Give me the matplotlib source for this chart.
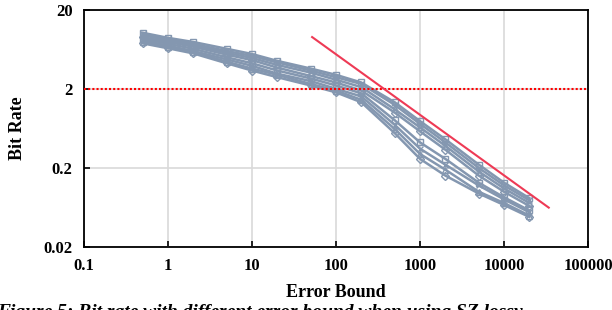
import numpy as np
import matplotlib.pyplot as plt

# Error bounds used for every series
bounds = [0.5, 1, 2, 5, 10, 20, 50, 100, 200, 500, 1000, 2000, 5000, 10000, 20000]

# Bit rate per field
s1 = [10.2, 8.8, 7.8, 6.4, 5.5, 4.5, 3.6, 3.0, 2.4, 1.35, 0.78, 0.46, 0.22, 0.13, 0.083]
s2 = [9.8, 8.5, 7.4, 6.0, 5.2, 4.3, 3.4, 2.8, 2.3, 1.25, 0.72, 0.42, 0.20, 0.12, 0.078]
s3 = [9.5, 8.2, 7.1, 5.7, 4.9, 4.0, 3.2, 2.6, 2.1, 1.10, 0.65, 0.38, 0.18, 0.11, 0.072]
s4 = [9.0, 7.8, 6.8, 5.4, 4.6, 3.7, 2.9, 2.4, 1.9, 1.00, 0.58, 0.34, 0.16, 0.10, 0.066]
s5 = [8.6, 7.4, 6.4, 5.0, 4.2, 3.4, 2.7, 2.2, 1.75, 0.80, 0.42, 0.26, 0.13, 0.085, 0.058]
s6 = [8.2, 7.0, 6.0, 4.7, 3.9, 3.1, 2.5, 2.0, 1.6, 0.70, 0.35, 0.22, 0.12, 0.080, 0.055]
s7 = [7.8, 6.7, 5.8, 4.4, 3.6, 3.0, 2.3, 1.9, 1.45, 0.62, 0.30, 0.19, 0.10, 0.072, 0.050]
s8 = [7.5, 6.5, 5.6, 4.2, 3.4, 2.8, 2.2, 1.8, 1.35, 0.55, 0.26, 0.16, 0.095, 0.068, 0.048]
series = [s1, s2, s3, s4, s5, s6, s7, s8]
markers = ["s", "x", "^", "D", "s", "x", "^", "D"]

# reference lines
ref_level = 2
trend_x = [52, 34000]
trend_y = [9.0, 0.063]

xticks = [0.1, 1, 10, 100, 1000, 10000, 100000]
xlabels = ["0.1", "1", "10", "100", "1000", "10000", "100000"]
yticks = [0.02, 0.2, 2, 20]
ylabels = ["0.02", "0.2", "2", "20"]

plt.rcParams["font.family"] = ["Liberation Serif", "DejaVu Serif"]

fig = plt.figure(figsize=(6.12, 3.10), dpi=100)
ax = fig.add_axes([0.137, 0.203, 0.824, 0.766])

line_color = "#8497b0"
for s, m in zip(series, markers):
    ax.plot(bounds, s, color=line_color, lw=1.8, marker=m, ms=4.5,
            mfc="none", mec=line_color, mew=1.0, zorder=3)

ax.axhline(ref_level, color="#ff0000", lw=1.5, ls=(0, (1, 1)), zorder=4)
ax.plot(trend_x, trend_y, color="#ee3a55", lw=1.5, zorder=4)

ax.set_xscale("log")
ax.set_yscale("log")
ax.set_xlim(0.1, 100000)
ax.set_ylim(0.02, 20)
ax.set_xticks(xticks)
ax.set_xticklabels(xlabels, fontweight="bold", fontsize=12)
ax.set_yticks(yticks)
ax.set_yticklabels(ylabels, fontweight="bold", fontsize=12)
ax.minorticks_off()
ax.tick_params(direction="in", length=4, width=1.2, pad=8)
ax.grid(True, color="#d9d9d9", lw=1.2, zorder=0)
ax.set_axisbelow(True)
for sp in ax.spines.values():
    sp.set_linewidth(1.3)

ax.set_xlabel("Error Bound", fontweight="bold", fontsize=13, labelpad=7)
ax.set_ylabel("Bit Rate", fontweight="bold", fontsize=13, labelpad=13)

fig.text(-0.005, -0.035, "Figure 5: Bit rate with different error bound when using SZ lossy",
         fontsize=14, fontstyle="italic", fontweight="bold", ha="left", va="bottom")

fig.savefig("out.png", dpi=100)
